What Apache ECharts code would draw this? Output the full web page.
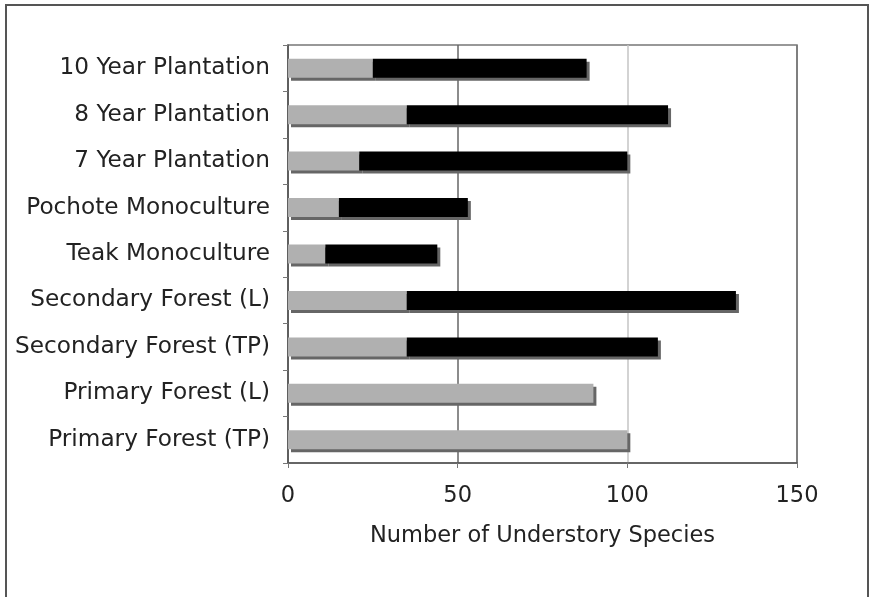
<!DOCTYPE html>
<html>
<head>
<meta charset="utf-8">
<script src="https://cdn.jsdelivr.net/npm/echarts@6/dist/echarts.min.js"></script>
<style>
html,body{margin:0;padding:0;background:#fff;}
#chart{width:872px;height:597px;}
</style>
</head>
<body>
<div id="chart"></div>
<script>
// Categories top to bottom
const categories = [
  "10 Year Plantation",
  "8 Year Plantation",
  "7 Year Plantation",
  "Pochote Monoculture",
  "Teak Monoculture",
  "Secondary Forest (L)",
  "Secondary Forest (TP)",
  "Primary Forest (L)",
  "Primary Forest (TP)"
];
// Gray segment values
const graySeries = [25, 35, 21, 15, 11, 35, 35, 90, 100];
// Black segment values (stacked on gray)
const blackSeries = [63, 77, 79, 38, 33, 97, 74, 0, 0];
const xTicks = [0, 50, 100, 150];

const chart = echarts.init(document.getElementById('chart'));
const font = 'DejaVu Sans';
const shadow = {shadowColor: '#666', shadowBlur: 0, shadowOffsetX: 3, shadowOffsetY: 3};
chart.setOption({
  animation: false,
  backgroundColor: '#fff',
  graphic: [{
    type: 'rect',
    shape: {x: 6, y: 5, width: 862, height: 620},
    style: {fill: 'none', stroke: '#555', lineWidth: 2},
    silent: true
  }],
  grid: {left: 288, top: 45, right: 75, bottom: 134, show: true, borderColor: '#777', borderWidth: 1.5},
  xAxis: {
    type: 'value',
    min: xTicks[0], max: xTicks[xTicks.length - 1], interval: 50,
    name: 'Number of Understory Species',
    nameLocation: 'middle', nameGap: 62,
    nameTextStyle: {fontFamily: font, fontSize: 22.5, color: '#222'},
    axisLine: {show: true, lineStyle: {color: '#555', width: 1.5}},
    axisTick: {show: true, length: 5, lineStyle: {color: '#777'}},
    axisLabel: {fontFamily: font, fontSize: 22.5, color: '#222', margin: 22},
    splitLine: {show: true, lineStyle: {color: ['#777', '#666', '#c4c4c4', '#777'], width: 1.5}}
  },
  yAxis: {
    type: 'category',
    data: categories,
    inverse: true,
    axisLine: {show: true, lineStyle: {color: '#555', width: 1.5}},
    axisTick: {show: true, length: 5, lineStyle: {color: '#777'}},
    axisLabel: {fontFamily: font, fontSize: 23.2, color: '#222', margin: 18}
  },
  series: [
    {type: 'bar', stack: 's', data: graySeries, barWidth: 19,
     itemStyle: Object.assign({color: '#b0b0b0'}, shadow)},
    {type: 'bar', stack: 's', data: blackSeries, barWidth: 19,
     itemStyle: Object.assign({color: '#000'}, shadow)}
  ]
});
</script>
</body>
</html>
